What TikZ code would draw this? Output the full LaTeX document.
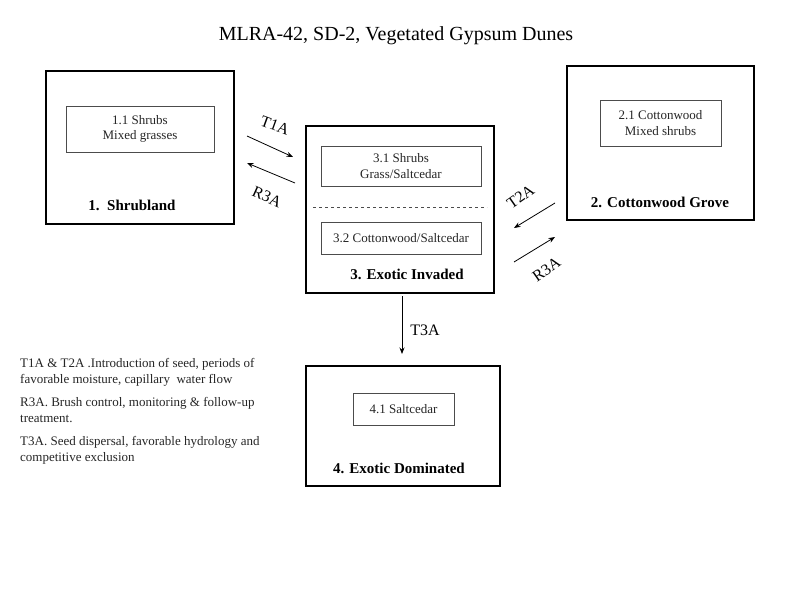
\documentclass[tikz,border=0pt]{standalone}
\usepackage{fontspec}
\setmainfont{Liberation Serif}
\usetikzlibrary{arrows.meta}
\tikzset{
    outerbox/.style={draw,line width=2pt,inner sep=0pt},
    innerbox/.style={draw,black!70,line width=0.8pt,inner sep=0pt,align=center,text=black!85,font=\fontsize{13}{15.5}\selectfont},
    statename/.style={font=\fontsize{15}{17}\selectfont\bfseries},
    pathlabel/.style={inner sep=0.5pt,font=\fontsize{16}{18}\selectfont},
    pathline/.style={line width=0.8pt,-{Stealth[length=6.5pt,width=5pt]}},
    legend/.style={anchor=north west,align=left,inner sep=0pt,font=\fontsize{13}{16}\selectfont,text=black!85}
}
\begin{document}
\begin{tikzpicture}[x=1pt,y=-1pt]
        \useasboundingbox[fill=white] (0,0) rectangle (800,600);
        \node[font=\fontsize{20}{22}\selectfont] (title) at (396,36) {MLRA-42, SD-2, Vegetated Gypsum Dunes};
        % state boxes
        \node[outerbox,minimum width=188pt,minimum height=153pt] (s1) at (140,147.5) {};
        \node[outerbox,minimum width=187pt,minimum height=154pt] (s2) at (660.5,143) {};
        \node[outerbox,minimum width=188pt,minimum height=167pt] (s3) at (400,209.5) {};
        \node[outerbox,minimum width=194pt,minimum height=120pt] (s4) at (403,426) {};
        % community boxes
        \node[innerbox,minimum width=148pt,minimum height=46pt] (c11) at (140,129) {1.1 Shrubs\\Mixed grasses};
        \node[innerbox,minimum width=121pt,minimum height=46pt] (c21) at (660.5,123) {2.1 Cottonwood\\Mixed shrubs};
        \node[innerbox,minimum width=160pt,minimum height=40pt] (c31) at (401,166) {3.1 Shrubs\\Grass/Saltcedar};
        \node[innerbox,minimum width=160pt,minimum height=32pt] (c32) at (401,238) {3.2 Cottonwood/Saltcedar};
        \node[innerbox,minimum width=101pt,minimum height=32pt] (c41) at (403.5,409) {4.1 Saltcedar};
        \draw[dashed,black!70,line width=0.6pt] (313,207) -- (487,207);
        % state names
        \node[statename] (n1) at (132,205) {1.\ \ Shrubland};
        \node[statename] (n2) at (660,202) {2. Cottonwood Grove};
        \node[statename] (n3) at (407,274) {3. Exotic Invaded};
        \node[statename] (n4) at (399,468) {4. Exotic Dominated};
        % transitions
        \coordinate (t1a) at (247,136); \coordinate (t1b) at (293,157);
        \coordinate (r1a) at (295,183); \coordinate (r1b) at (247,163);
        \coordinate (t2a) at (555,203); \coordinate (t2b) at (514,228);
        \coordinate (r2a) at (514,262); \coordinate (r2b) at (555,237);
        \coordinate (t3a) at (402,296); \coordinate (t3b) at (402,354);
        \draw[pathline] (t1a) -- (t1b) node[pathlabel,pos=0.5,xshift=5pt,yshift=21pt,rotate=-20] {T1A};
        \draw[pathline] (r1a) -- (r1b) node[pathlabel,pos=0.5,xshift=-4pt,yshift=-24pt,rotate=-24] {R3A};
        \draw[pathline] (t2a) -- (t2b) node[pathlabel,pos=0.5,xshift=-14pt,yshift=19pt,rotate=35] {T2A};
        \draw[pathline] (r2a) -- (r2b) node[pathlabel,pos=0.5,xshift=12pt,yshift=-20pt,rotate=35] {R3A};
        \draw[pathline] (t3a) -- (t3b) node[pathlabel,pos=0.5,xshift=23pt,yshift=-5pt] {T3A};
        % key to transitions
        \node[legend] (k1) at (20,358) {T1A \& T2A .Introduction of seed, periods of\\favorable moisture, capillary\ \ water flow};
        \node[legend] (k2) at (20,397) {R3A. Brush control, monitoring \& follow-up\\treatment.};
        \node[legend] (k3) at (20,436) {T3A. Seed dispersal, favorable hydrology and\\competitive exclusion};
    \end{tikzpicture}
\end{document}
